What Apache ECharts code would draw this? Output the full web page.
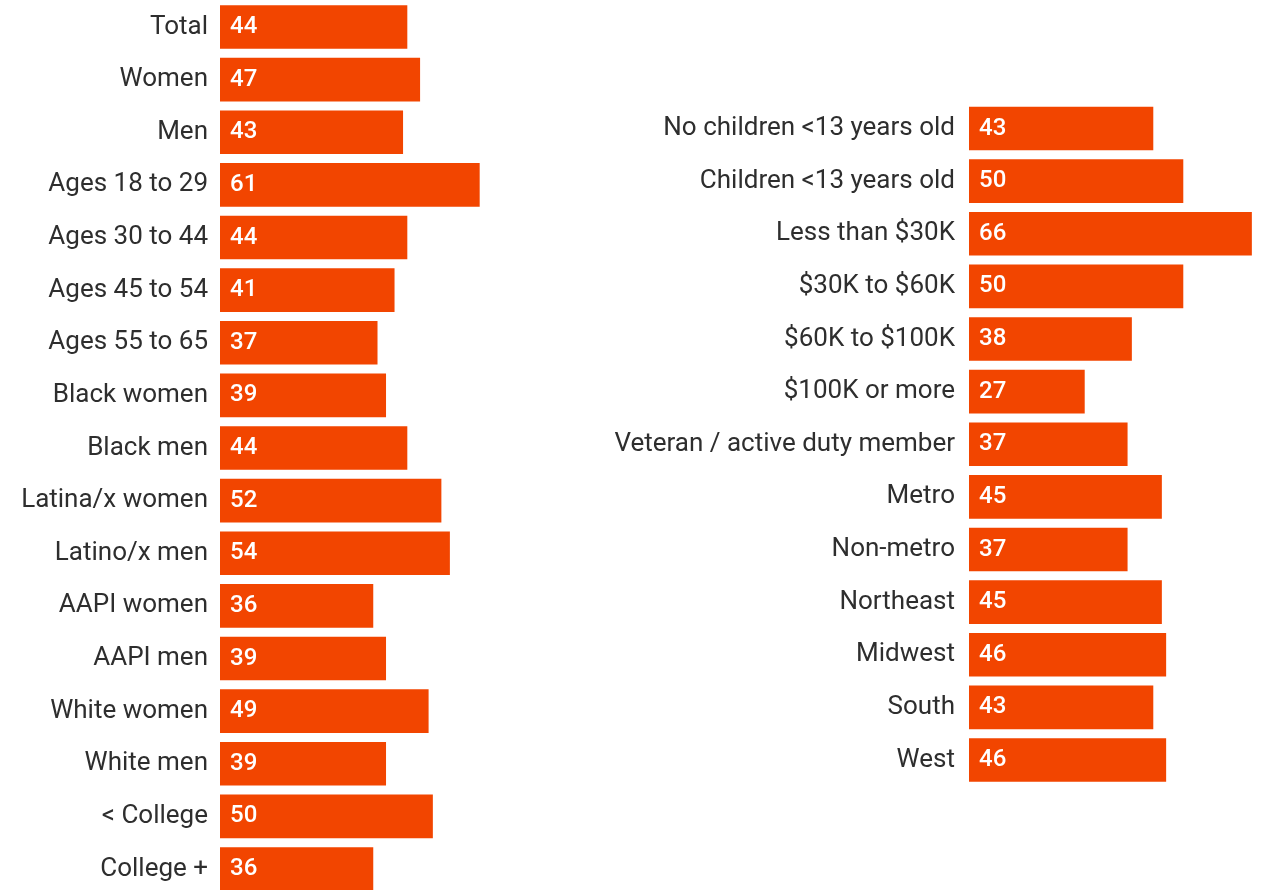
<!DOCTYPE html>
<html>
<head>
<meta charset="utf-8">
<script src="https://cdn.jsdelivr.net/npm/echarts@6/dist/echarts.min.js"></script>
<style>
  html, body { margin: 0; padding: 0; background: #ffffff; overflow: hidden; }
  /* canvas runs a little past the right and bottom edges so the panel reads as cropped */
  #chart { width: 1300px; height: 960px; }
</style>
</head>
<body>
<div id="chart"></div>
<script>
// Share of respondents (%) by group — left column: demographics
const leftCategories = [
  'Total', 'Women', 'Men', 'Ages 18 to 29', 'Ages 30 to 44', 'Ages 45 to 54',
  'Ages 55 to 65', 'Black women', 'Black men', 'Latina/x women', 'Latino/x men',
  'AAPI women', 'AAPI men', 'White women', 'White men', '< College', 'College +'
];
const leftValues = [44, 47, 43, 61, 44, 41, 37, 39, 44, 52, 54, 36, 39, 49, 39, 50, 36];

// Right column: household, income, service, geography
const rightCategories = [
  'No children <13 years old', 'Children <13 years old', 'Less than $30K',
  '$30K to $60K', '$60K to $100K', '$100K or more', 'Veteran / active duty member',
  'Metro', 'Non-metro', 'Northeast', 'Midwest', 'South', 'West'
];
const rightValues = [43, 50, 66, 50, 38, 27, 37, 45, 37, 45, 46, 43, 46];

const BAR_COLOR = '#f24500';
const TEXT_COLOR = '#2e2e2e';
const FONT = 'Roboto';
const ROW = 52.625;

function valueAxis(gridIndex) {
  return {
    type: 'value', gridIndex, min: 0, max: 70,
    show: false, splitLine: { show: false }
  };
}
function categoryAxis(gridIndex, data, margin) {
  return {
    type: 'category', gridIndex, data, inverse: true,
    axisLine: { show: false }, axisTick: { show: false }, splitLine: { show: false },
    axisLabel: {
      color: TEXT_COLOR, fontFamily: FONT, fontSize: 26, margin,
      padding: [9, 0, 0, 0]
    }
  };
}
function barSeries(idx, values) {
  return {
    type: 'bar', xAxisIndex: idx, yAxisIndex: idx, data: values,
    barCategoryGap: '17%',
    itemStyle: { color: BAR_COLOR },
    label: {
      show: true, position: 'insideLeft', distance: 10,
      color: '#ffffff', fontFamily: FONT, fontSize: 24, fontWeight: 500,
      padding: [8, 0, 0, 0]
    },
    silent: true, animation: false
  };
}

const chart = echarts.init(document.getElementById('chart'), null, { renderer: 'canvas' });
chart.setOption({
  backgroundColor: '#ffffff',
  animation: false,
  grid: [
    { left: 220, top: 27 - ROW / 2, width: 298, height: ROW * leftCategories.length },
    { left: 969, top: 128.5 - ROW / 2, width: 300, height: ROW * rightCategories.length }
  ],
  xAxis: [valueAxis(0), valueAxis(1)],
  yAxis: [categoryAxis(0, leftCategories, 12), categoryAxis(1, rightCategories, 14)],
  series: [barSeries(0, leftValues), barSeries(1, rightValues)]
});
</script>
</body>
</html>
